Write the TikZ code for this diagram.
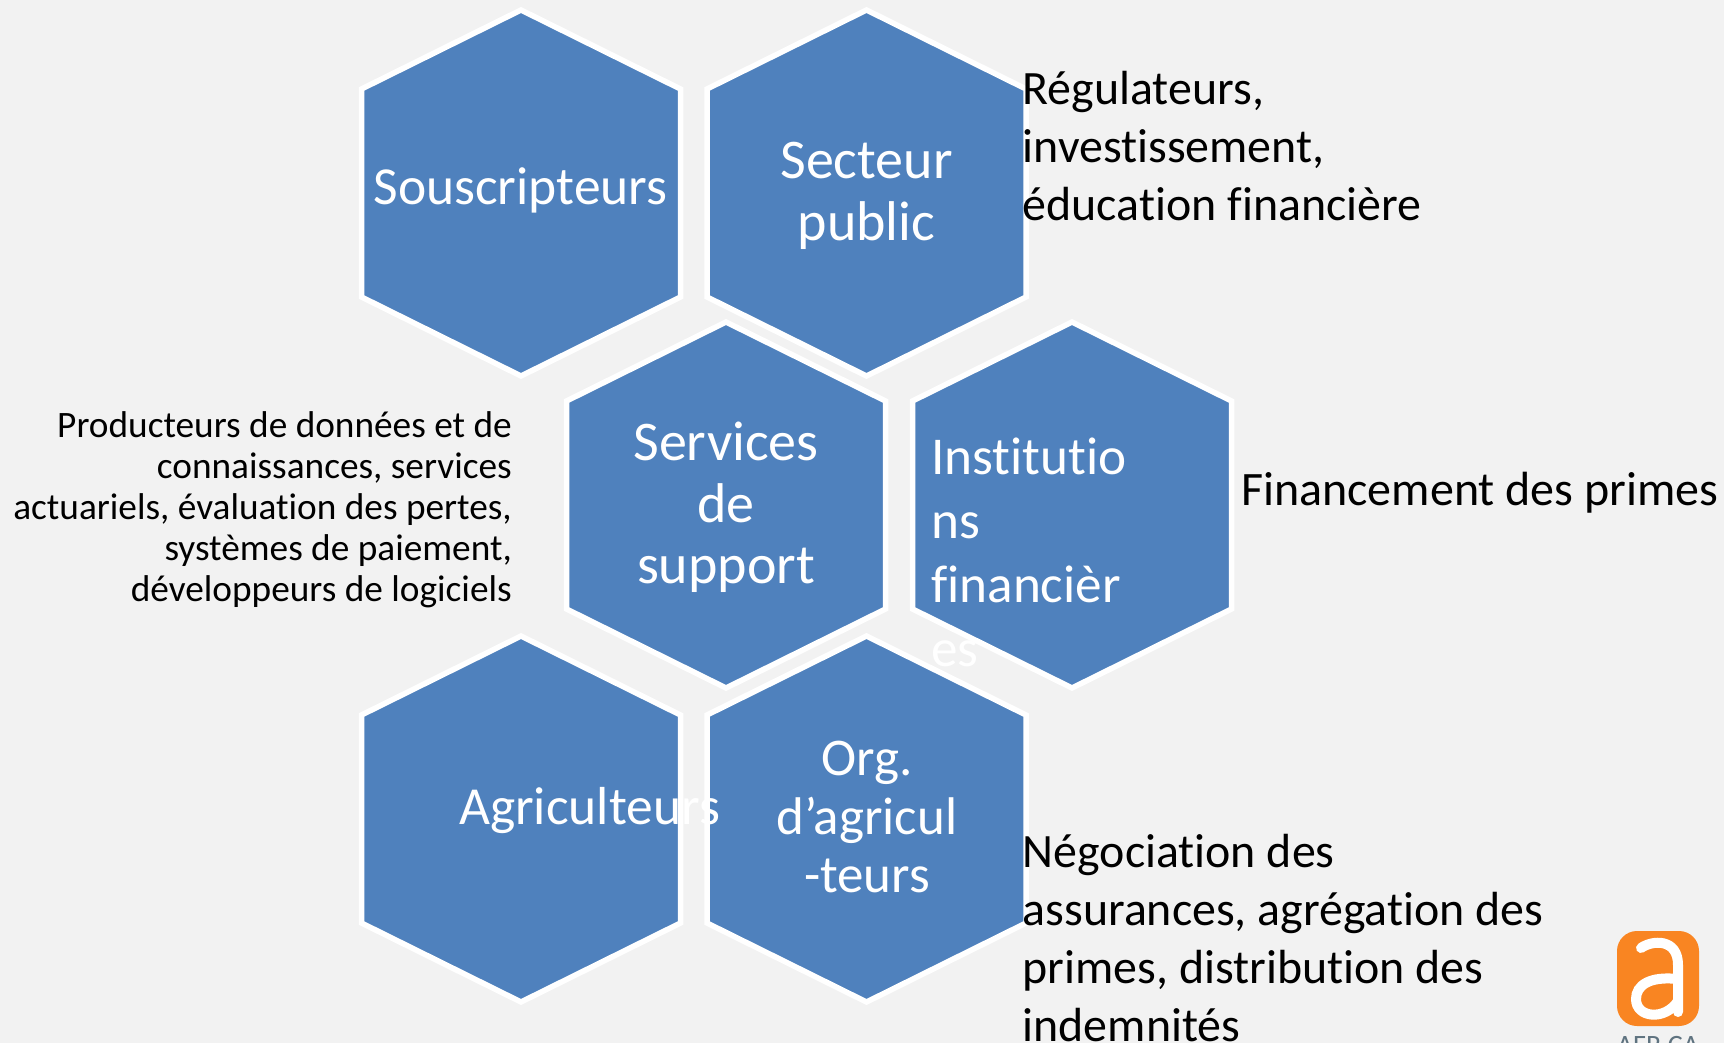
\documentclass[tikz,border=0pt]{standalone}
\usepackage{fontspec}
\setmainfont[RawFeature={-liga;-clig}]{Carlito}
\definecolor{bgc}{HTML}{F2F2F2}
\definecolor{hexc}{HTML}{4F81BD}
\definecolor{logoc}{HTML}{F98522}
\definecolor{logot}{HTML}{5F7380}
\newcommand{\hexat}[3]{% centre x, top y, name
  \coordinate (#3) at (#1,#2);
  \draw[hexcell] (#1,#2) -- ++(159.5,79) -- ++(0,208) -- ++(-159.5,79) -- ++(-159.5,-79) -- ++(0,-208) -- cycle;
}
\newcommand{\fs}[2]{\fontsize{#1}{#2}\selectfont}
\tikzset{
  hexcell/.style={fill=hexc,draw=white,line width=5.5pt,line join=miter},
  hexlabel/.style={text=white,inner sep=0pt,align=center},
  sidetext/.style={text=black,inner sep=0pt,align=left,anchor=west},
}
\begin{document}
\begin{tikzpicture}[x=1pt,y=-1pt]
\useasboundingbox (0,0) rectangle (1724,1043);
\fill[bgc] (0,0) rectangle (1724,1043);
\hexat{521}{10}{h1}
\hexat{866.5}{10}{h2}
\hexat{726}{322}{h3}
\hexat{1072}{322}{h4}
\hexat{521}{636}{h5}
\hexat{866.5}{636}{h6}
\node[hexlabel,font=\fs{53.5}{61.5}] (souscripteurs) at (520.5,190) {Souscripteurs};
\node[hexlabel,font=\fs{56}{61.5}] (secteur) at (866.5,196) {Secteur\\public};
\node[hexlabel,font=\fs{56}{61.5}] (services) at (726,507.5) {Services\\de\\support};
\node[hexlabel,font=\fs{53.2}{64},align=left,anchor=west] (institutions) at (931,552) {Institutio\\ns\\financièr\\es};
\node[hexlabel,font=\fs{53.5}{61.5}] (agriculteurs) at (589.5,811) {Agriculteurs};
\node[hexlabel,font=\fs{53}{58.3}] (org) at (867,817) {Org.\\d’agricul\\-teurs};
\node[sidetext,font=\fs{47.9}{58}] (regul) at (1022.5,146) {Régulateurs,\\investissement,\\éducation financière};
\node[sidetext,font=\fs{48}{58}] (finance) at (1241,492.5) {Financement des primes};
\node[sidetext,font=\fs{47.9}{58}] (nego) at (1022.5,938) {Négociation des\\assurances, agrégation des\\primes, distribution des\\indemnités};
\node[text=black,inner sep=0pt,align=right,anchor=east,font=\fs{37.3}{41}] (prod) at (512,510) {Producteurs de données et de\\connaissances, services\\actuariels, évaluation des pertes,\\systèmes de paiement,\\développeurs de logiciels};
\fill[logoc,rounded corners=20pt] (1617,931) rectangle (1699,1026);
\draw[white,line width=10pt,line cap=round] (1641,948) .. controls (1652,940) and (1678,938) .. (1678,965) -- (1678,1012);
\draw[white,line width=10pt] (1678,979) .. controls (1650,976) and (1636,985) .. (1636,999) .. controls (1636,1018) and (1665,1021) .. (1678,1001);
\node[text=logot,inner sep=0pt,anchor=north,font=\fs{28}{30}] (afr) at (1658,1036.5) {AFR.CA};
\end{tikzpicture}
\end{document}
